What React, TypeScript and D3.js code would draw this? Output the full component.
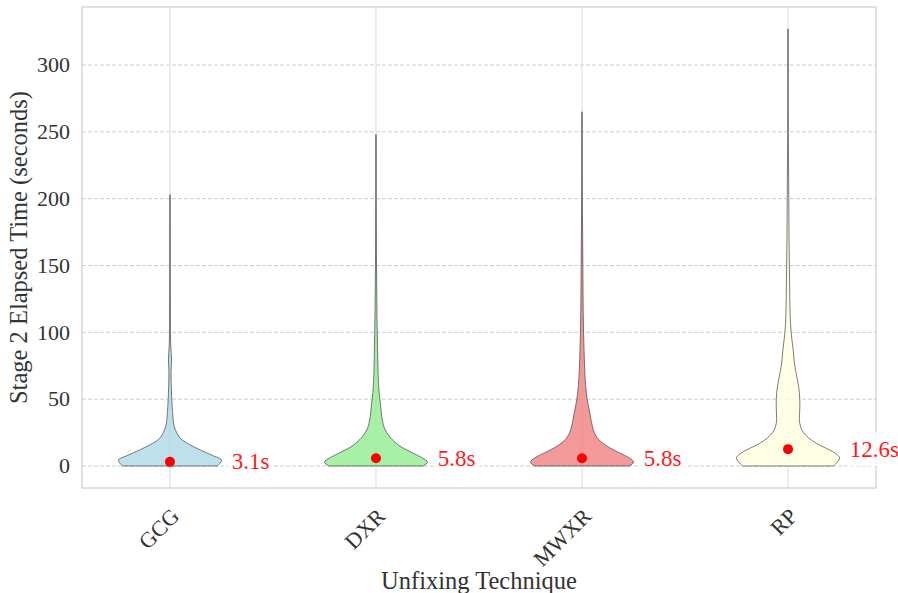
import React, { useEffect, useRef } from "react";
import * as d3 from "d3";

const W = 898;
const H = 593;

const categories = ["GCG", "DXR", "MWXR", "RP"];
const colors = ["#add8e6", "#90ee90", "#f08080", "#ffffe0"];
const medians = [3.1, 5.8, 5.8, 12.6];
const yTicks = [0, 50, 100, 150, 200, 250, 300];

// density profile per technique: [seconds, relative width]
const gcgProfile: [number, number][] = [
  [0, 0.92], [2, 0.97], [4.5, 1.0], [8, 0.82], [12, 0.59], [16, 0.38], [20, 0.22],
  [25, 0.13], [30, 0.08], [40, 0.05], [50, 0.035], [60, 0.025], [70, 0.02],
  [80, 0.03], [90, 0.015], [100, 0.008], [150, 0.004], [203, 0.002],
];
const dxrProfile: [number, number][] = [
  [0, 0.92], [3, 1.0], [6, 0.9], [10, 0.7], [14, 0.5], [20, 0.31], [27, 0.18],
  [35, 0.12], [45, 0.09], [55, 0.06], [70, 0.04], [90, 0.03], [110, 0.02],
  [130, 0.015], [160, 0.008], [200, 0.004], [248, 0.002],
];
const mwxrProfile: [number, number][] = [
  [0, 0.92], [3, 1.0], [6, 0.92], [10, 0.72], [15, 0.48], [20, 0.32], [25, 0.24],
  [30, 0.2], [40, 0.15], [50, 0.1], [60, 0.07], [80, 0.045], [100, 0.03],
  [130, 0.02], [160, 0.015], [200, 0.006], [265, 0.002],
];
const rpProfile: [number, number][] = [
  [0, 0.88], [3, 0.96], [6, 1.0], [10, 0.9], [14, 0.7], [17, 0.55], [21, 0.4],
  [25, 0.3], [30, 0.24], [35, 0.22], [45, 0.23], [55, 0.22], [65, 0.18],
  [75, 0.13], [87, 0.1], [100, 0.06], [115, 0.04], [140, 0.03], [170, 0.02],
  [200, 0.015], [250, 0.006], [327, 0.002],
];
const profiles = [gcgProfile, dxrProfile, mwxrProfile, rpProfile];

const FONT = "'Liberation Serif', 'DejaVu Serif', serif";

function App() {
  const ref = useRef<SVGSVGElement | null>(null);

  useEffect(() => {
    const svg = d3.select(ref.current);
    svg.selectAll("*").remove();

    const left = 82, right = 876, top = 7, bottom = 488;
    const x = d3.scaleLinear().domain([-0.427, 3.427]).range([left, right]);
    const y = d3.scaleLinear().domain([-16.46, 343.4]).range([bottom, top]);
    const halfWidth = 0.25; // data units

    const g = svg.append("g");

    // grid
    g.selectAll("line.hgrid")
      .data(yTicks)
      .enter()
      .append("line")
      .attr("x1", left)
      .attr("x2", right)
      .attr("y1", d => y(d))
      .attr("y2", d => y(d))
      .attr("stroke", "#cccccc")
      .attr("stroke-width", 1)
      .attr("stroke-dasharray", "4,2");

    g.selectAll("line.vgrid")
      .data(categories)
      .enter()
      .append("line")
      .attr("x1", (_, i) => x(i))
      .attr("x2", (_, i) => x(i))
      .attr("y1", top)
      .attr("y2", bottom)
      .attr("stroke", "#e3e3e3")
      .attr("stroke-width", 1.25);

    // violins
    profiles.forEach((p, i) => {
      const area = d3
        .area<[number, number]>()
        .y(d => y(d[0]))
        .x0(d => x(i - d[1] * halfWidth))
        .x1(d => x(i + d[1] * halfWidth))
        .curve(d3.curveMonotoneY);
      g.append("path")
        .datum(p)
        .attr("d", area)
        .attr("fill", colors[i])
        .attr("fill-opacity", 0.8)
        .attr("stroke", "#444444")
        .attr("stroke-width", 0.7);
    });

    // frame
    g.append("rect")
      .attr("x", left)
      .attr("y", top)
      .attr("width", right - left)
      .attr("height", bottom - top)
      .attr("fill", "none")
      .attr("stroke", "#d0d0d0")
      .attr("stroke-width", 1.25);

    // medians
    g.selectAll("circle.med")
      .data(medians)
      .enter()
      .append("circle")
      .attr("cx", (_, i) => x(i))
      .attr("cy", d => y(d))
      .attr("r", 5)
      .attr("fill", "#ff0000");

    medians.forEach((m, i) => {
      const lg = g.append("g");
      const box = lg.append("rect").attr("fill", "#ffffff").attr("fill-opacity", 0.8);
      const t = lg
        .append("text")
        .attr("x", x(i + 0.3))
        .attr("y", y(m))
        .attr("dy", "0.33em")
        .attr("font-family", FONT)
        .attr("font-size", 23)
        .attr("fill", "#ff1a1a")
        .text(`${m.toFixed(1)}s`);
      const bb = (t.node() as SVGTextElement).getBBox();
      const pad = 4;
      box
        .attr("x", bb.x - pad)
        .attr("y", y(m) - 17)
        .attr("width", bb.width + 2 * pad)
        .attr("height", 34);
    });

    // y tick labels
    g.selectAll("text.ytick")
      .data(yTicks)
      .enter()
      .append("text")
      .attr("x", 70)
      .attr("y", d => y(d))
      .attr("dy", "0.33em")
      .attr("text-anchor", "end")
      .attr("font-family", FONT)
      .attr("font-size", 22)
      .attr("fill", "#333333")
      .text(d => d);

    // x tick labels
    g.selectAll("text.xtick")
      .data(categories)
      .enter()
      .append("text")
      .attr("transform", (_, i) => `translate(${x(i)},${bottom + 19}) rotate(-45)`)
      .attr("dy", "0.68em")
      .attr("text-anchor", "end")
      .attr("font-family", FONT)
      .attr("font-size", 22)
      .attr("fill", "#333333")
      .text(d => d);

    // axis titles
    g.append("text")
      .attr("transform", `translate(27,${(top + bottom) / 2}) rotate(-90)`)
      .attr("text-anchor", "middle")
      .attr("font-family", FONT)
      .attr("font-size", 24.5)
      .attr("fill", "#333333")
      .text("Stage 2 Elapsed Time (seconds)");

    g.append("text")
      .attr("x", (left + right) / 2)
      .attr("y", 589)
      .attr("text-anchor", "middle")
      .attr("font-family", FONT)
      .attr("font-size", 24.5)
      .attr("fill", "#333333")
      .text("Unfixing Technique");
  }, []);

  return (
    <svg
      ref={ref}
      width={W}
      height={H}
      style={{ position: "absolute", left: 0, top: 0, background: "#ffffff" }}
    />
  );
}

export default App;
